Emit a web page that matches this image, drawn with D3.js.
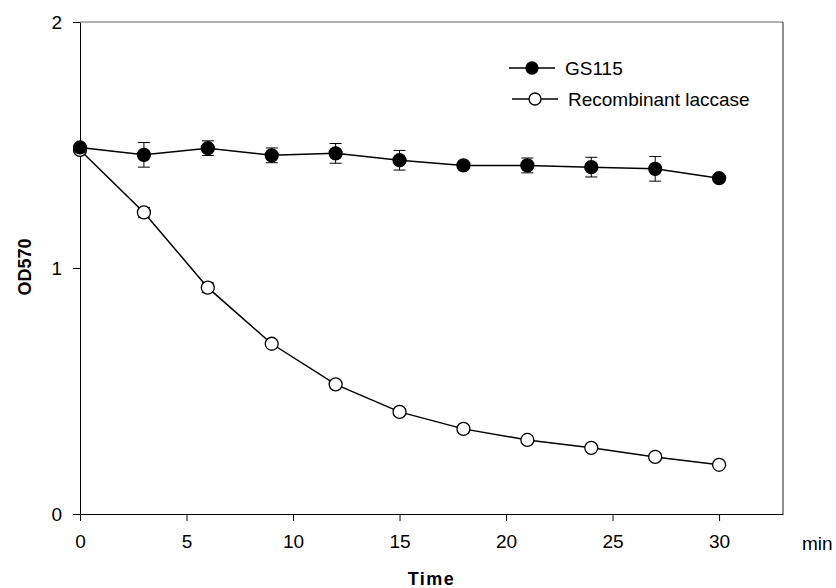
<!DOCTYPE html>
<html>
<head>
    <meta charset="utf-8">
    <style>
        body { margin: 0; background: #fff; }
        svg { font-family: 'Liberation Sans', Arial, sans-serif; }
    </style>
</head>
<body>
<svg width="836" height="588"></svg>

<script src="https://d3js.org/d3.v7.min.js"></script>
<script>
    // values
    let times = [0, 3, 6, 9, 12, 15, 18, 21, 24, 27, 30];
    let gs115 = [1.49, 1.46, 1.487, 1.458, 1.466, 1.438, 1.417, 1.417, 1.41, 1.403, 1.365];
    let gs115Err = [0.01, 0.05, 0.03, 0.03, 0.04, 0.04, 0.01, 0.03, 0.04, 0.05, 0.01];
    let laccase = [1.48, 1.226, 0.92, 0.692, 0.527, 0.415, 0.346, 0.301, 0.269, 0.232, 0.2];
    let laccaseErr = [0.01, 0.02, 0.02, 0.01, 0.01, 0.01, 0.01, 0.01, 0.01, 0.01, 0.01];
    let xTicks = [0, 5, 10, 15, 20, 25, 30];
    let yTicks = [0, 1, 2];
    let seriesNames = ["GS115", "Recombinant laccase"];

    let margin = { top: 22, left: 80, right: 53, bottom: 74 };
    let width = 836 - margin.left - margin.right;
    let height = 588 - margin.top - margin.bottom;

    let svg = d3.select("svg");
    let g = svg.append("g").attr("transform", `translate(${margin.left},${margin.top})`);

    let x = d3.scaleLinear().domain([0, 33]).range([0, width]);
    let y = d3.scaleLinear().domain([0, 2]).range([height, 0]);

    // frame top + right
    g.append("line").attr("x1", 0).attr("x2", width).attr("y1", 0).attr("y2", 0)
        .style("stroke", "#666").style("stroke-width", 1);
    g.append("line").attr("x1", width).attr("x2", width).attr("y1", 0).attr("y2", height)
        .style("stroke", "#222").style("stroke-width", 1);

    let xAxis = g.append("g").attr("transform", `translate(0,${height})`)
        .call(d3.axisBottom(x).tickValues(xTicks).tickFormat(d3.format("d"))
            .tickSize(7).tickPadding(14).tickSizeOuter(0));
    let yAxis = g.append("g")
        .call(d3.axisLeft(y).tickValues(yTicks).tickFormat(d3.format("d"))
            .tickSize(7).tickPadding(11).tickSizeOuter(0));
    [xAxis, yAxis].forEach(a => {
        a.select(".domain").style("stroke", "#000");
        a.selectAll(".tick line").style("stroke", "#000");
        a.selectAll(".tick text").style("fill", "#000").style("font-size", "19px")
            .style("font-family", "'Liberation Sans', Arial, sans-serif");
    });

    svg.append("text").attr("x", 802).attr("y", 550).text("min")
        .style("font-size", "19px");
    svg.append("text").attr("x", margin.left + width / 2).attr("y", 585)
        .attr("text-anchor", "middle").text("Time")
        .style("font-size", "18px").style("font-weight", "bold").style("letter-spacing", "1.5px");
    svg.append("text").attr("transform", "translate(31,267) rotate(-90)")
        .attr("text-anchor", "middle").text("OD570")
        .style("font-size", "18px").style("font-weight", "bold");

    let series = [
        { name: seriesNames[0], vals: gs115, err: gs115Err, fill: "#000" },
        { name: seriesNames[1], vals: laccase, err: laccaseErr, fill: "#fff" }
    ];

    let line = d3.line().x(d => x(d[0])).y(d => y(d[1]));

    series.forEach(s => {
        let pts = times.map((t, i) => [t, s.vals[i], s.err[i]]);
        g.append("path").datum(pts).attr("d", line)
            .style("fill", "none").style("stroke", "#000").style("stroke-width", 1.5);

        let eb = g.selectAll(null).data(pts.filter(p => p[2] > 0.015)).join("g");
        eb.append("line")
            .attr("x1", d => x(d[0])).attr("x2", d => x(d[0]))
            .attr("y1", d => y(d[1] + d[2])).attr("y2", d => y(d[1] - d[2]))
            .style("stroke", "#000");
        [1, -1].forEach(sg => {
            eb.append("line")
                .attr("x1", d => x(d[0]) - 6).attr("x2", d => x(d[0]) + 6)
                .attr("y1", d => y(d[1] + sg * d[2])).attr("y2", d => y(d[1] + sg * d[2]))
                .style("stroke", "#000");
        });
    });

    // markers drawn after lines so open circles sit on top
    series.slice().reverse().forEach(s => {
        g.selectAll(null).data(times.map((t, i) => [t, s.vals[i]])).join("circle")
            .attr("cx", d => x(d[0])).attr("cy", d => y(d[1])).attr("r", 6.5)
            .style("fill", s.fill).style("stroke", "#000").style("stroke-width", 1.3);
    });

    // legend
    let legend = svg.append("g");
    series.forEach((s, i) => {
        let ly = 68 + i * 31;
        let lx = 509 + i * 3;
        legend.append("line").attr("x1", lx).attr("x2", lx + 46).attr("y1", ly).attr("y2", ly)
            .style("stroke", "#000").style("stroke-width", 1.5);
        legend.append("circle").attr("cx", lx + 23).attr("cy", ly).attr("r", 6)
            .style("fill", s.fill).style("stroke", "#000").style("stroke-width", 1.3);
        legend.append("text").attr("x", lx + 56).attr("y", ly + 7).text(s.name)
            .style("font-size", "19px");
    });
</script>
</body>
</html>
